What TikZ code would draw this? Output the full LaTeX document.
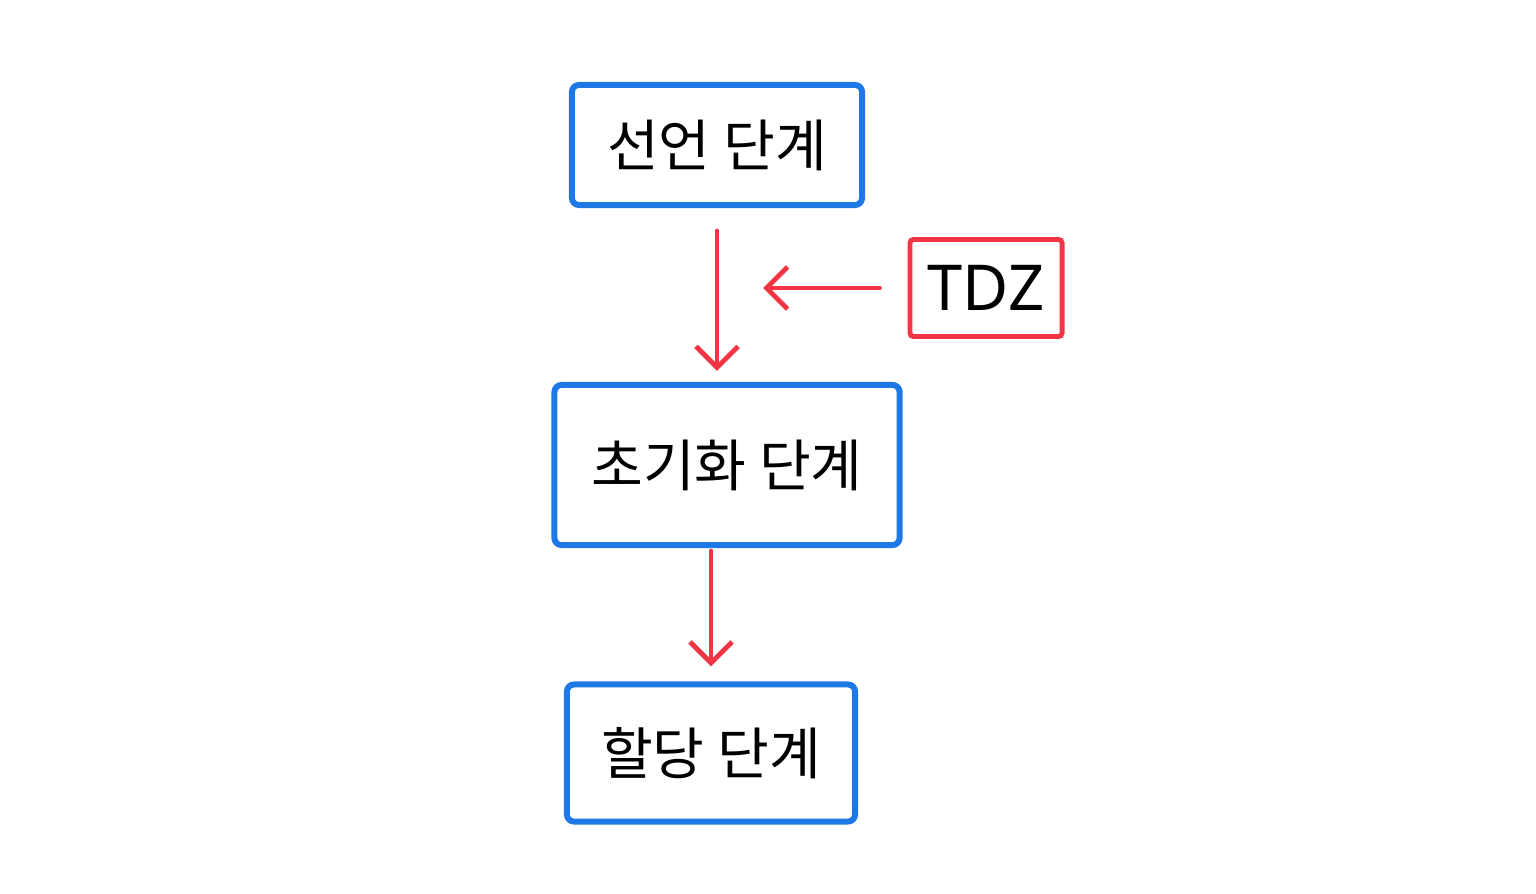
\documentclass[tikz,border=0pt]{standalone}
\usepackage{fontspec}
\newfontfamily\kr{Noto Sans CJK KR}
\setmainfont{Noto Sans}
\usetikzlibrary{arrows.meta}
\definecolor{hblue}{HTML}{1E78E6}
\definecolor{hred}{HTML}{F23545}
\tikzset{
  stagebox/.style={draw=hblue, line width=1.7pt, line cap=round, line join=round, rounded corners=2pt, inner sep=0pt, font=\kr\fontsize{16}{18}\selectfont},
  tdzbox/.style={draw=hred, line width=1.4pt, line cap=round, rounded corners=1pt, inner sep=0pt, font=\fontsize{18}{20}\selectfont},
  flow/.style={draw=hred, line width=1.4pt, line cap=round, -{Straight Barb[length=6pt,width=12pt,line width=1.4pt]}}
}
\begin{document}
\begin{tikzpicture}[x=0.01cm,y=-0.01cm]
\useasboundingbox (0,0) rectangle (1536,894);
\node[stagebox, minimum width=2.9cm, minimum height=1.2cm] (b1) at (717,145) {선언 단계};
\node[stagebox, minimum width=3.45cm, minimum height=1.6cm] (b2) at (727,465) {초기화 단계};
\node[stagebox, minimum width=2.88cm, minimum height=1.37cm] (b3) at (711,753) {할당 단계};
\node[tdzbox, minimum width=1.52cm, minimum height=0.97cm] (tdz) at (986,288) {TDZ};
\coordinate (tdzend) at (763,285);
\draw[flow, shorten <=0.23cm, shorten >=0.11cm] (b1.south) -- (b1.south |- b2.north);
\draw[flow, shorten <=0.03cm, shorten >=0.15cm] (b3.north |- b2.south) -- (b3.north);
\draw[flow, shorten <=0.28cm] (tdz.west) -- (tdz.west -| tdzend);
\end{tikzpicture}
\end{document}
